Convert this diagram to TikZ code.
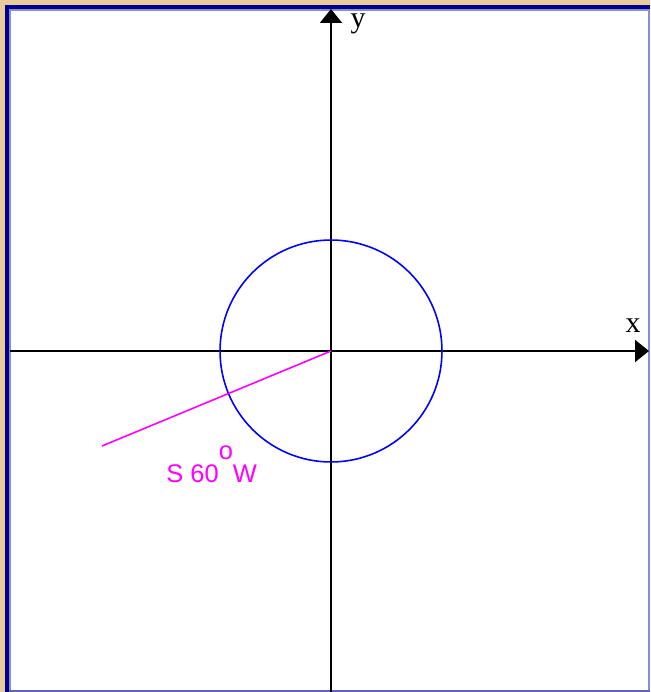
\documentclass[tikz,border=0pt]{standalone}
\usepackage{fontspec}
\setmainfont{Liberation Serif}
\newfontfamily\labelfont{Liberation Sans}
\usetikzlibrary{arrows.meta}

\definecolor{frametan}{HTML}{E8CC9C}
\definecolor{navy}{HTML}{00008F}
\definecolor{lav}{HTML}{8C8CD0}
\definecolor{pinkline}{HTML}{FF00FF}
\definecolor{circblue}{HTML}{0000FF}

\begin{document}
\begin{tikzpicture}[x=0.02cm, y=-0.02cm,
  axis/.style={-{Triangle[length=0.28cm, width=0.44cm]}, line width=1.2pt, draw=black},
  curve/.style={draw=circblue, line width=0.9pt},
  bearing/.style={draw=pinkline, line width=0.9pt},
  axlbl/.style={font=\fontsize{17}{17}\selectfont, inner sep=0pt},
  blbl/.style={font=\labelfont\fontsize{14.5}{14.5}\selectfont, text=pinkline, inner sep=0pt}
]
  \useasboundingbox (0,0) rectangle (650,692);
  % frame
  \fill[frametan] (0,0) rectangle (650,692);
  \fill[white] (9,9) rectangle (650,692);
  \fill[navy] (5,5) rectangle (650,9);
  \fill[navy] (5,5) rectangle (9,692);
  \draw[lav, line width=0.6pt] (10,692) -- (10,10) -- (650,10);
  \draw[lav, line width=0.6pt] (649,10) -- (649,692);
  \draw[lav!70!navy, line width=0.8pt] (9,691) -- (650,691);

  % points
  \coordinate (O) at (331,351);
  \coordinate (xl) at (10,351);
  \coordinate (xr) at (649,351);
  \coordinate (yb) at (331,692);
  \coordinate (yt) at (331,9);
  \coordinate (P) at (102,446);

  % axes, circle, bearing
  \draw[axis] (xl) -- (xr);
  \draw[axis] (yb) -- (yt);
  \draw[curve] (O) circle[radius=2.22cm];
  \draw[bearing] (O) -- (P);

  \node[axlbl, anchor=base] (ylbl) at (358,28) {y};
  \node[axlbl, anchor=base] (xlbl) at (633,332) {x};
  \node[blbl, anchor=base west] (brg) at (166,482) {S 60\raisebox{0.9em}{o}W};
\end{tikzpicture}
\end{document}
